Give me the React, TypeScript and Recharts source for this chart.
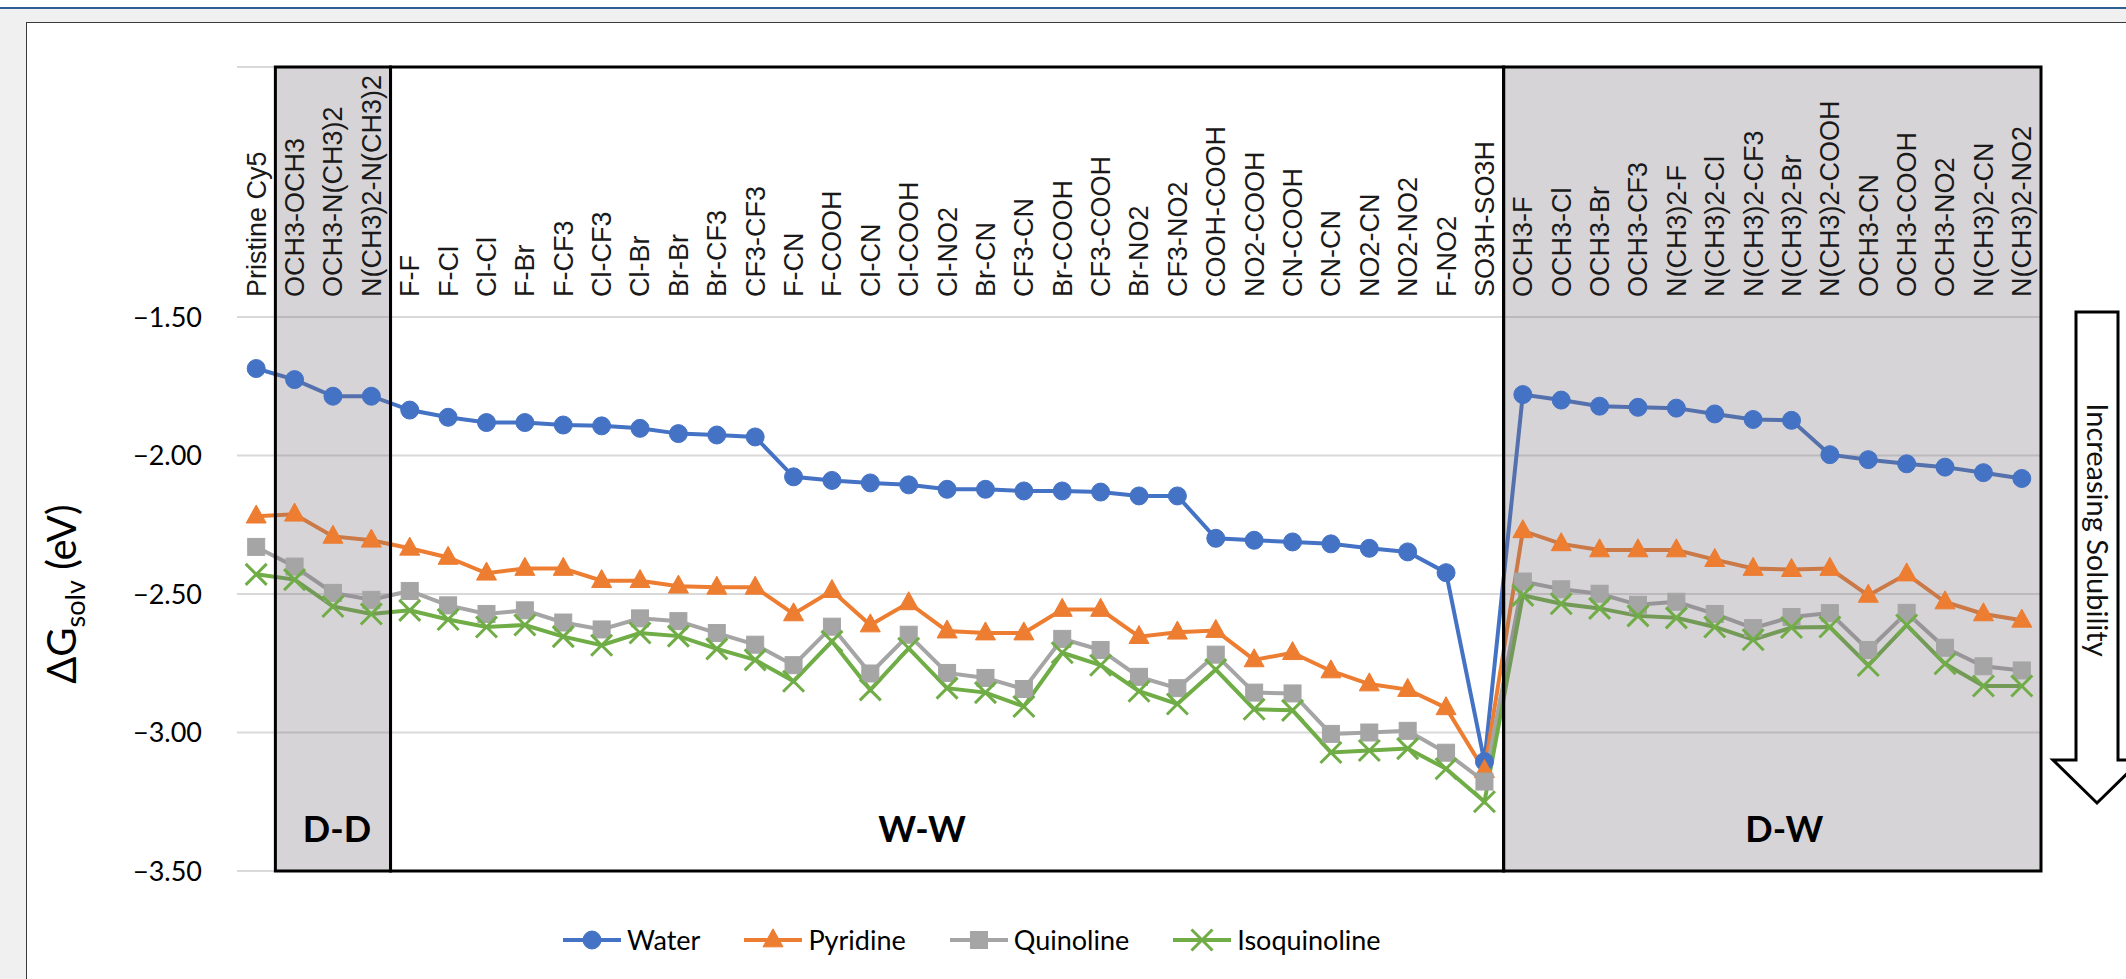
import React from 'react';
import { LineChart, Line, XAxis, YAxis, CartesianGrid, ReferenceArea } from 'recharts';

const categories = [
  'Pristine Cy5', 'OCH3-OCH3', 'OCH3-N(CH3)2', 'N(CH3)2-N(CH3)2',
  'F-F', 'F-Cl', 'Cl-Cl', 'F-Br', 'F-CF3', 'Cl-CF3', 'Cl-Br', 'Br-Br', 'Br-CF3', 'CF3-CF3',
  'F-CN', 'F-COOH', 'Cl-CN', 'Cl-COOH', 'Cl-NO2', 'Br-CN', 'CF3-CN', 'Br-COOH', 'CF3-COOH',
  'Br-NO2', 'CF3-NO2', 'COOH-COOH', 'NO2-COOH', 'CN-COOH', 'CN-CN', 'NO2-CN', 'NO2-NO2',
  'F-NO2', 'SO3H-SO3H',
  'OCH3-F', 'OCH3-Cl', 'OCH3-Br', 'OCH3-CF3', 'N(CH3)2-F', 'N(CH3)2-Cl', 'N(CH3)2-CF3',
  'N(CH3)2-Br', 'N(CH3)2-COOH', 'OCH3-CN', 'OCH3-COOH', 'OCH3-NO2', 'N(CH3)2-CN', 'N(CH3)2-NO2',
];

const water = [
  -1.686, -1.726, -1.786, -1.786,
  -1.836, -1.862, -1.881, -1.881, -1.890, -1.893, -1.902, -1.921, -1.926, -1.933,
  -2.077, -2.090, -2.099, -2.106, -2.122, -2.122, -2.128, -2.128, -2.132,
  -2.146, -2.146, -2.299, -2.306, -2.312, -2.319, -2.335, -2.348,
  -2.423, -3.105,
  -1.780, -1.800, -1.822, -1.826, -1.829, -1.850, -1.870,
  -1.873, -1.997, -2.015, -2.030, -2.042, -2.062, -2.083,
];

const pyridine = [
  -2.219, -2.212, -2.292, -2.306,
  -2.335, -2.368, -2.425, -2.408, -2.408, -2.452, -2.452, -2.472, -2.476, -2.476,
  -2.572, -2.488, -2.612, -2.532, -2.634, -2.641, -2.641, -2.556, -2.556,
  -2.654, -2.638, -2.632, -2.738, -2.712, -2.778, -2.825, -2.845,
  -2.911, -3.138,
  -2.272, -2.319, -2.341, -2.341, -2.341, -2.376, -2.408,
  -2.412, -2.408, -2.505, -2.428, -2.529, -2.572, -2.595,
];

const quinoline = [
  -2.330, -2.401, -2.496, -2.521,
  -2.489, -2.541, -2.572, -2.559, -2.603, -2.628, -2.588, -2.598, -2.641, -2.683,
  -2.757, -2.618, -2.787, -2.647, -2.785, -2.803, -2.843, -2.662, -2.702,
  -2.799, -2.840, -2.719, -2.856, -2.859, -3.005, -3.000, -2.994,
  -3.073, -3.177,
  -2.455, -2.483, -2.499, -2.539, -2.528, -2.572, -2.623,
  -2.583, -2.569, -2.702, -2.568, -2.694, -2.761, -2.776,
];

const isoquinoline = [
  -2.429, -2.448, -2.545, -2.572,
  -2.559, -2.592, -2.619, -2.612, -2.654, -2.685, -2.641, -2.652, -2.698, -2.738,
  -2.815, -2.671, -2.846, -2.696, -2.840, -2.856, -2.906, -2.712, -2.757,
  -2.851, -2.897, -2.773, -2.916, -2.920, -3.072, -3.065, -3.058,
  -3.131, -3.250,
  -2.505, -2.535, -2.552, -2.579, -2.586, -2.619, -2.665,
  -2.621, -2.619, -2.758, -2.612, -2.752, -2.832, -2.832,
];

const yTicks = [-3.5, -3.0, -2.5, -2.0, -1.5];

const groupNames = ['D-D', 'W-W', 'D-W'];
const groupStarts = [0.5, 3.5, 32.5];
const groupEnds = [3.5, 32.5, 46.5];
const groupShaded = [true, false, true];

const seriesNames = ['Water', 'Pyridine', 'Quinoline', 'Isoquinoline'];
const seriesColors = ['#4472C4', '#ED7D31', '#A5A5A5', '#70AD47'];
const seriesMarkers = ['circle', 'triangle', 'square', 'cross'];
const seriesValues = [water, pyridine, quinoline, isoquinoline];

const data = categories.map((name, i) => {
  const row: Record<string, number | string> = { idx: i, name };
  seriesNames.forEach((s, k) => {
    row[s] = seriesValues[k][i];
  });
  return row;
});

// ---- layout ----
const W = 2126;
const H = 979;
const PLOT_LEFT = 237;
const PLOT_RIGHT = 2041;
const PLOT_TOP = 67;
const GRID_TOP = 317;
const PLOT_BOTTOM = 871;
const Y_MIN = -3.5;
const Y_TOP_TICK = -1.5;
const Y_MAX = Y_TOP_TICK + ((GRID_TOP - PLOT_TOP) * (Y_TOP_TICK - Y_MIN)) / (PLOT_BOTTOM - GRID_TOP);
const YAXIS_W = 160;
const XAXIS_H = 1;
const LABEL_BASE = 297;

const CAL = "Lato, 'Open Sans', sans-serif";
const SANS = "'Liberation Sans', Arial, sans-serif";

const groupLabelDx: Record<string, number> = { 'D-D': 4, 'W-W': -25, 'D-W': 12 };

function MarkerShape({ cx, cy, kind, color }: { cx?: number; cy?: number; kind: string; color: string }) {
  if (cx == null || cy == null || isNaN(cx) || isNaN(cy)) return null;
  if (kind === 'circle') {
    return <circle cx={cx} cy={cy} r={9} fill={color} stroke={color} strokeWidth={1} />;
  }
  if (kind === 'triangle') {
    const w = 20;
    const h = 18;
    return (
      <polygon
        points={`${cx},${cy - h * 0.62} ${cx + w / 2},${cy + h * 0.38} ${cx - w / 2},${cy + h * 0.38}`}
        fill={color}
        stroke={color}
        strokeWidth={1}
      />
    );
  }
  if (kind === 'square') {
    return <rect x={cx - 8.5} y={cy - 8.5} width={17} height={17} fill={color} stroke={color} strokeWidth={1} />;
  }
  const d = 10.5;
  return (
    <g stroke={color} strokeWidth={3}>
      <line x1={cx - d} y1={cy - d} x2={cx + d} y2={cy + d} />
      <line x1={cx - d} y1={cy + d} x2={cx + d} y2={cy - d} />
    </g>
  );
}

function CategoryTick(props: any) {
  const { x, payload } = props;
  const label = categories[payload.value];
  if (label === undefined) return null;
  return (
    <text
      x={x}
      y={LABEL_BASE}
      transform={`rotate(-90 ${x} ${LABEL_BASE})`}
      dy="0.35em"
      textAnchor="start"
      fontSize={27}
      fontFamily={SANS}
      fill="#1a1a1a"
    >
      {label}
    </text>
  );
}

function GroupLabel(name: string) {
  return (props: any) => {
    const vb = props.viewBox || {};
    const cx = vb.x + vb.width / 2 + (groupLabelDx[name] || 0);
    const by = vb.y + vb.height - 29;
    return (
      <text x={cx} y={by} textAnchor="middle" fontSize={36} fontWeight="bold" fontFamily={CAL} fill="#000">
        {name}
      </text>
    );
  };
}

const fmt = (v: number) => {
  const s = Math.abs(v).toFixed(2);
  return v < 0 ? `\u2212${s}` : s;
};

export default function App() {
  return (
    <div style={{ position: 'absolute', left: 0, top: 0, width: W, height: H, overflow: 'hidden', background: '#ffffff' }}>
      <div style={{ position: 'absolute', left: 0, top: 7, width: W, height: 2, background: '#2f5f94' }} />
      <div style={{ position: 'absolute', left: 0, top: 9, width: W, height: H - 9, background: '#f0f0f0' }} />
      <div
        style={{
          position: 'absolute',
          left: 26,
          top: 22,
          width: W + 50,
          height: H + 50,
          background: '#ffffff',
          border: '1.5px solid #3a3a3a',
        }}
      />
      <div style={{ position: 'absolute', left: 0, top: 0 }}>
        <LineChart
          width={W}
          height={H}
          data={data}
          margin={{ top: PLOT_TOP - XAXIS_H, right: W - PLOT_RIGHT, bottom: H - PLOT_BOTTOM, left: PLOT_LEFT - YAXIS_W }}
        >
          <CartesianGrid vertical={false} stroke="#d9d9d9" strokeWidth={2} />
          <XAxis
            dataKey="idx"
            type="number"
            orientation="top"
            domain={[-0.5, categories.length - 0.5]}
            allowDataOverflow
            ticks={categories.map((_, i) => i)}
            interval={0}
            height={XAXIS_H}
            axisLine={false}
            tickLine={false}
            tick={<CategoryTick />}
          />
          <YAxis
            type="number"
            domain={[Y_MIN, Y_MAX]}
            allowDataOverflow
            ticks={yTicks}
            interval={0}
            width={YAXIS_W}
            axisLine={false}
            tickLine={false}
            tickSize={0}
            tickMargin={35}
            tickFormatter={fmt}
            tick={{ fontSize: 27, fill: '#000', fontFamily: CAL }}
          />
          {seriesNames.map((s, k) => (
            <Line
              key={s}
              dataKey={s}
              type="linear"
              stroke={seriesColors[k]}
              strokeWidth={4}
              isAnimationActive={false}
              activeDot={false}
              dot={(p: any) => (
                <MarkerShape key={`${s}-${p.index}`} cx={p.cx} cy={p.cy} kind={seriesMarkers[k]} color={seriesColors[k]} />
              )}
            />
          ))}
          {groupNames.map((g, k) => (
            <ReferenceArea
              key={g}
              x1={groupStarts[k]}
              x2={groupEnds[k]}
              y1={Y_MIN}
              y2={Y_MAX}
              ifOverflow="visible"
              fill={groupShaded[k] ? '#7a6f7a' : 'none'}
              fillOpacity={groupShaded[k] ? 0.3 : 0}
              stroke="#000"
              strokeWidth={3}
              strokeOpacity={1}
              zIndex={450}
              label={GroupLabel(g)}
            />
          ))}
        </LineChart>
      </div>
      <svg width={W} height={H} style={{ position: 'absolute', left: 0, top: 0, pointerEvents: 'none' }}>
        <text transform="translate(76,594) rotate(-90)" textAnchor="middle" fontSize={40} fontFamily={CAL} fill="#000">
          ΔG
          <tspan fontSize={27} dy={9}>solv</tspan>
          <tspan dy={-9}> (eV)</tspan>
        </text>
        <polygon
          points="2076,312 2118,312 2118,760 2141,760 2097,803 2053,760 2076,760"
          fill="#fff"
          stroke="#000"
          strokeWidth={3}
        />
        <text
          transform="translate(2097,530) rotate(90)"
          textAnchor="middle"
          dy="0.35em"
          fontSize={29}
          fontFamily={CAL}
          fill="#111"
        >
          Increasing Solubility
        </text>
      </svg>
      <div
        style={{
          position: 'absolute',
          left: 563,
          top: 922,
          height: 36,
          display: 'flex',
          alignItems: 'center',
          gap: 44,
        }}
      >
        {seriesNames.map((s, k) => (
          <div key={s} style={{ display: 'flex', alignItems: 'center', gap: 6 }}>
            <svg width={58} height={30}>
              <line x1={0} y1={15} x2={58} y2={15} stroke={seriesColors[k]} strokeWidth={4} />
              <MarkerShape cx={29} cy={15} kind={seriesMarkers[k]} color={seriesColors[k]} />
            </svg>
            <span style={{ fontFamily: CAL, fontSize: 27, color: '#000', lineHeight: '36px' }}>{s}</span>
          </div>
        ))}
      </div>
    </div>
  );
}
